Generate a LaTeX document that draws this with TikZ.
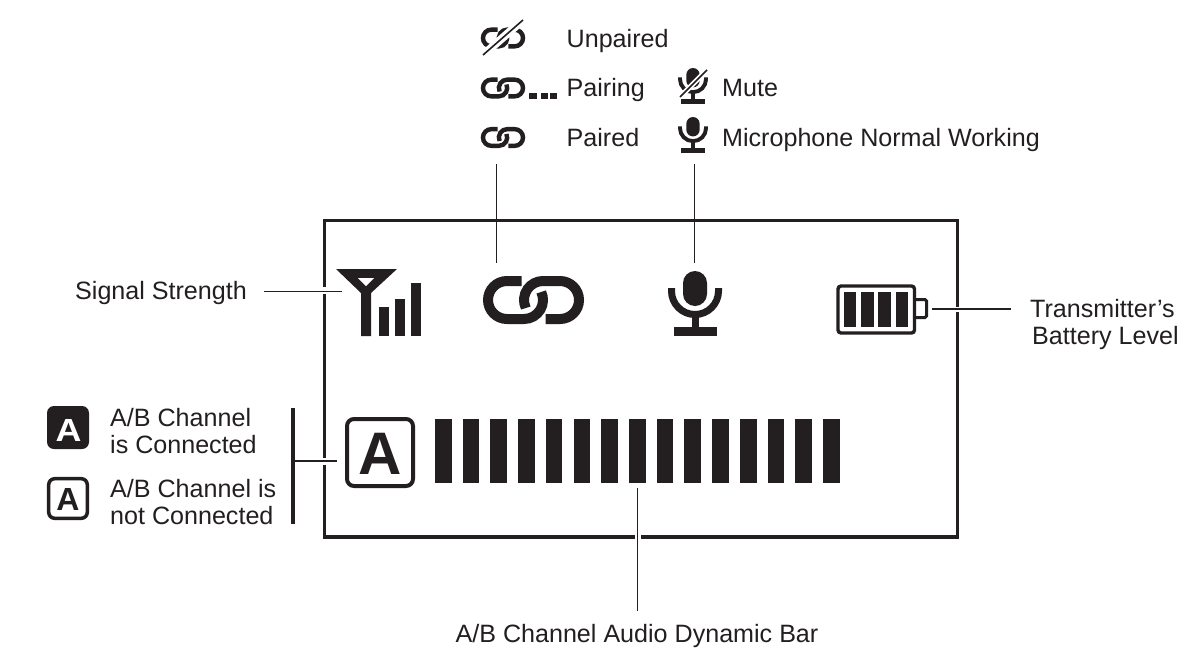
\documentclass[tikz,border=0pt]{standalone}
\usepackage{fontspec}
\setmainfont{Liberation Sans}
\definecolor{ink}{HTML}{231F20}
\tikzset{
 lbl/.style={font=\fontsize{25.1}{30}\selectfont,text=ink,inner sep=0pt,anchor=base west},
 thin line/.style={draw=ink,line width=1.3pt},
 frame/.style={draw=ink,line width=3.4pt},
 boldA/.style={text=ink,inner sep=0pt,anchor=base,font=\fontsize{#1}{#1}\selectfont\bfseries},
 slash/.style={draw=ink,line width=1.6pt},
 slashgap/.style={draw=white,line width=#1}
}
% chain icon: centre x, centre y, scale
\newcommand{\chainicon}[3]{%
 \begin{scope}[shift={(#1,#2)},scale=#3,line width=#3*10pt]
  \draw[ink] (-12,-19) -- (-26.5,-19) arc[start angle=270,end angle=90,radius=19] -- (-9.5,19) arc[start angle=90,end angle=-25,radius=19];
  \draw[ink] (-7.72,8.03) arc[start angle=155,end angle=270,radius=19] -- (26.5,-19) arc[start angle=270,end angle=450,radius=19] -- (12,19);
 \end{scope}}
% mic icon: centre x, centre y, scale
\newcommand{\micicon}[3]{%
 \begin{scope}[shift={(#1,#2)},scale=#3]
  \fill[ink] (-12,-15) arc[start angle=180,end angle=360,radius=12] -- (12,-4) arc[start angle=0,end angle=180,radius=12] -- cycle;
  \draw[ink,line width=#3*7pt] (-23.5,-10) -- (-23.5,-7) arc[start angle=180,end angle=0,radius=23.5] -- (23.5,-10);
  \fill[ink] (-3.5,16) rectangle (3.5,30);
  \fill[ink] (-21.5,29) rectangle (21.5,38);
 \end{scope}}
\begin{document}
\begin{tikzpicture}[x=1pt,y=-1pt]
\useasboundingbox[fill=white] (0,0) rectangle (1199,667);
% frame
\draw[frame] (324.5,220.5) rectangle (957.5,537);
\fill[white] (320,287) rectangle (329,294);
\fill[white] (320,458) rectangle (329,465);
\fill[white] (953,307) rectangle (962,312);
\fill[white] (635,533) rectangle (640.5,541);
% top legend
\node[lbl] (unp) at (566.5,47) {Unpaired};
\node[lbl] (pai) at (566.5,96.5) {Pairing};
\node[lbl] (prd) at (566.5,146) {Paired};
\node[lbl] (mut) at (722,96.5) {Mute};
\node[lbl] (mic) at (722,146) {Microphone Normal Working};
\chainicon{503}{38}{0.44}
\draw[slashgap=8pt] (483,55) -- (523,20);
\draw[slash] (483,55) -- (523,20);
\chainicon{503}{88}{0.44}
\fill[ink] (529,93) rectangle (537,99);
\fill[ink] (540.5,93) rectangle (548,99);
\fill[ink] (550,93) rectangle (557,99);
\chainicon{503}{137.5}{0.44}
\micicon{693}{83}{0.555}
\draw[slashgap=5pt] (680,97) -- (707,70);
\draw[slash] (680,97) -- (707,70);
\micicon{693}{132}{0.555}
% connectors
\coordinate (c1a) at (496.5,164); \coordinate (c1b) at (496.5,263);
\coordinate (c2a) at (694.5,164); \coordinate (c2b) at (694.5,263);
\draw[thin line] (c1a) -- (c1b);
\draw[thin line] (c2a) -- (c2b);
\node[lbl] (sig) at (75,299) {Signal Strength};
\coordinate (s1) at (264,291.5); \coordinate (s2) at (342,291.5);
\draw[thin line] (s1) -- (s2);
% signal icon
\fill[ink] (336,269) -- (397,269) -- (371,293) -- (371,336) -- (361,336) -- (361,293) -- cycle;
\fill[white] (358,278) -- (374,278) -- (366,286) -- cycle;
\fill[ink] (379,307) rectangle (389,336);
\fill[ink] (395,299) rectangle (405,336);
\fill[ink] (411,283) rectangle (421,336);
% big chain
\chainicon{533.5}{300}{1}
% big mic
\micicon{695}{298}{1}
% battery
\draw[ink,line width=3.4pt,rounded corners=3pt] (838,286) rectangle (914.5,333);
\draw[ink,line width=3pt,rounded corners=1.5pt] (915,299.5) -- (926.5,299.5) -- (926.5,317.5) -- (915,317.5);
\fill[ink] (844,292) rectangle (856,327);
\fill[ink] (861,292) rectangle (874,327);
\fill[ink] (878,292) rectangle (891,327);
\fill[ink] (896,292) rectangle (908,327);
\coordinate (b1) at (932,309); \coordinate (b2) at (1011,309);
\draw[thin line] (b1) -- (b2);
\node[lbl] (tr1) at (1030,317) {Transmitter’s};
\node[lbl] (tr2) at (1032,344.5) {Battery Level};
% left A
\node[lbl] (a1) at (110,426) {A/B Channel};
\node[lbl] (a2) at (110,453.5) {is Connected};
\node[lbl] (a3) at (110,497) {A/B Channel is};
\node[lbl] (a4) at (110,524.5) {not Connected};
\fill[ink,rounded corners=7pt] (47,406) rectangle (89,449);
\node[boldA=32,text=white,xscale=1.12] (ka) at (68.5,441) {A};
\draw[ink,line width=3.5pt,rounded corners=6pt] (48.7,478.7) rectangle (87.3,518.3);
\node[boldA=32] (kb) at (68,510) {A};
\draw[ink,line width=3.8pt] (293,408) -- (293,524);
\coordinate (l1) at (294,461); \coordinate (l2) at (337,461);
\draw[thin line] (l1) -- (l2);
\draw[ink,line width=4pt,rounded corners=7pt] (347,419) rectangle (413,486);
\node[boldA=60] (kc) at (380.5,474) {A};
% bars
\foreach \i in {0,...,14} {\fill[ink] ({435+\i*27.72},419) rectangle ({435+\i*27.72+16.6},483);}
\coordinate (d1) at (637.5,488); \coordinate (d2) at (637.5,611);
\draw[thin line] (d1) -- (d2);
\node[lbl,anchor=base] (dyn) at (637,642) {A/B Channel Audio Dynamic Bar};
\end{tikzpicture}
\end{document}
